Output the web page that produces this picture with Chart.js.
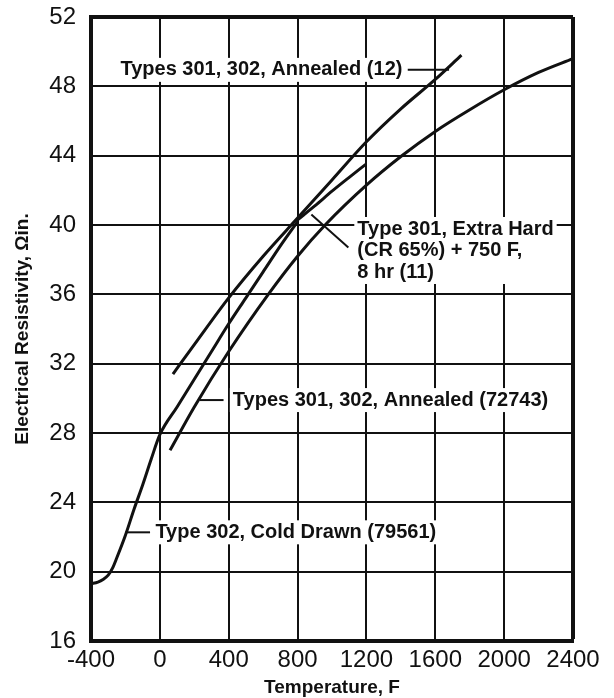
<!DOCTYPE html>
<html>
<head>
<meta charset="utf-8">
<script src="https://cdn.jsdelivr.net/npm/chart.js@4.4.1/dist/chart.umd.min.js"></script>
<style>
  html, body { margin: 0; padding: 0; background: #fff; }
  #wrap { width: 614px; height: 698px; position: relative; }
</style>
</head>
<body>
<div id="wrap"><canvas id="canvas"></canvas></div>
<script>
// axis ticks
const tempTicks = [-400, 0, 400, 800, 1200, 1600, 2000, 2400]
const tempTickLabels = ["-400", "0", "400", "800", "1200", "1600", "2000", "2400"]
const resTicks = [16, 20, 24, 28, 32, 36, 40, 44, 48, 52]
const resTickLabels = ["16", "20", "24", "28", "32", "36", "40", "44", "48", "52"]

// Types 301, 302, Annealed (12)
const annealed12Temp = [76, 200, 400, 600, 800, 1000, 1200, 1400, 1600, 1752]
const annealed12Res = [31.4, 33.1, 35.8, 38.2, 40.4, 42.6, 44.8, 46.7, 48.4, 49.8]

// Types 301, 302, Annealed (72743)
const annealed72743Temp = [59, 200, 400, 630, 800, 960, 1200, 1400, 1600, 1800, 2000, 2200, 2400]
const annealed72743Res = [27.0, 29.5, 32.7, 36.0, 38.2, 40.0, 42.3, 43.95, 45.4, 46.65, 47.8, 48.8, 49.6]

// Type 302, Cold Drawn (79561)
const coldDrawnTemp = [-400, -360, -330, -300, -275, -250, -200, -150, -100, -50, 0, 100, 200, 300, 400, 500, 600, 700, 800]
const coldDrawnRes = [19.3, 19.4, 19.55, 19.8, 20.2, 20.8, 22.1, 23.6, 25.0, 26.5, 27.9, 29.5, 31.1, 32.7, 34.3, 35.8, 37.3, 38.8, 40.2]

// Type 301, Extra Hard (CR 65%) + 750 F, 8 hr (11)
const extraHardTemp = [800, 900, 1000, 1100, 1196]
const extraHardRes = [40.3, 41.1, 41.95, 42.75, 43.5]

const FONT = "'Liberation Sans', Arial, sans-serif"
const INK = "#111"

// turn two arrays into scatter points
const toPoints = (xs, ys) => xs.map((x, i) => ({ x: x, y: ys[i] }))

const curve = (label, xs, ys) => ({
    label: label,
    data: toPoints(xs, ys),
    showLine: true,
    borderColor: INK,
    borderWidth: 3,
    pointRadius: 0,
    cubicInterpolationMode: "monotone",
    fill: false
})

// text labels with their leader lines, placed in data units
const callouts = [
    { lines: ["Types 301, 302, Annealed (12)"], x: -229, y: 48.95, leader: [[1440, 48.95], [1680, 48.95]] },
    { lines: ["Type 301, Extra Hard", "(CR 65%) + 750 F,", "8 hr (11)"], x: 1147, y: 39.77, leader: [[1095, 38.7], [880, 40.6]] },
    { lines: ["Types 301, 302, Annealed (72743)"], x: 424, y: 29.9, leader: [[370, 29.9], [232, 29.9]] },
    { lines: ["Type 302, Cold Drawn (79561)"], x: -26, y: 22.27, leader: [[-57, 22.27], [-200, 22.27]] }
]
const calloutFont = "bold 20px " + FONT
const calloutLineHeight = 21.5

const calloutPlugin = {
    id: "callouts",
    // white boxes behind the text hide the grid, like the printed chart
    beforeDatasetsDraw(chart) {
        const ctx = chart.ctx
        const xs = chart.scales.x
        const ys = chart.scales.y
        ctx.save()
        ctx.font = calloutFont
        ctx.fillStyle = "#fff"
        callouts.forEach(c => {
            const px = xs.getPixelForValue(c.x)
            const py = ys.getPixelForValue(c.y)
            const w = Math.max(...c.lines.map(t => ctx.measureText(t).width))
            const h = (c.lines.length - 1) * calloutLineHeight + 24
            ctx.fillRect(px - 3, py - 12, w + 6, h)
        })
        ctx.restore()
    },
    afterDatasetsDraw(chart) {
        const ctx = chart.ctx
        const xs = chart.scales.x
        const ys = chart.scales.y
        ctx.save()
        ctx.font = calloutFont
        ctx.fillStyle = INK
        ctx.strokeStyle = INK
        ctx.lineWidth = 2
        ctx.textAlign = "left"
        ctx.textBaseline = "middle"
        callouts.forEach(c => {
            const px = xs.getPixelForValue(c.x)
            const py = ys.getPixelForValue(c.y)
            c.lines.forEach((t, i) => ctx.fillText(t, px, py + i * calloutLineHeight))
            ctx.beginPath()
            ctx.moveTo(xs.getPixelForValue(c.leader[0][0]), ys.getPixelForValue(c.leader[0][1]))
            ctx.lineTo(xs.getPixelForValue(c.leader[1][0]), ys.getPixelForValue(c.leader[1][1]))
            ctx.stroke()
        })
        ctx.restore()
    }
}

const target = document.querySelector("#canvas")
const myChart = new Chart(target, {
    type: "scatter",
    data: {
        datasets: [
            curve("Types 301, 302, Annealed (12)", annealed12Temp, annealed12Res),
            curve("Types 301, 302, Annealed (72743)", annealed72743Temp, annealed72743Res),
            curve("Type 302, Cold Drawn (79561)", coldDrawnTemp, coldDrawnRes),
            curve("Type 301, Extra Hard (CR 65%) + 750 F, 8 hr (11)", extraHardTemp, extraHardRes)
        ]
    },
    options: {
        responsive: true,
        maintainAspectRatio: false,
        animation: false,
        layout: { padding: { top: 17, right: 41, bottom: 0, left: 0 } },
        plugins: {
            legend: { display: false },
            tooltip: { enabled: false }
        },
        scales: {
            x: {
                type: "linear",
                min: -400,
                max: 2400,
                afterBuildTicks: s => { s.ticks = tempTicks.map(v => ({ value: v })) },
                afterFit: s => { s.height = 57 },
                ticks: {
                    callback: (v, i) => tempTickLabels[i],
                    font: { family: FONT, size: 24 },
                    color: INK,
                    padding: 5,
                    maxRotation: 0,
                    autoSkip: false
                },
                grid: {
                    color: INK,
                    lineWidth: c => (c.tick && c.tick.value === 2400) ? 4 : 2,
                    drawTicks: false
                },
                border: { color: INK, width: 4 },
                title: {
                    display: true,
                    text: "Temperature, F",
                    color: INK,
                    font: { family: FONT, size: 19, weight: "bold", lineHeight: 1.1 },
                    padding: { top: 0, bottom: 0 }
                }
            },
            y: {
                type: "linear",
                min: 16,
                max: 52,
                afterBuildTicks: s => { s.ticks = resTicks.map(v => ({ value: v })) },
                // fixed width, and no extra room for the top label
                afterFit: s => {
                    s.width = 91
                    s.paddingTop = 0
                    s.paddingBottom = 0
                },
                ticks: {
                    callback: (v, i) => resTickLabels[i],
                    font: { family: FONT, size: 24 },
                    color: INK,
                    padding: 15
                },
                grid: {
                    color: INK,
                    lineWidth: c => (c.tick && c.tick.value === 52) ? 4 : 2,
                    drawTicks: false
                },
                border: { color: INK, width: 4 },
                title: {
                    display: true,
                    text: "Electrical Resistivity, \u03A9in.",
                    color: INK,
                    font: { family: FONT, size: 19, weight: "bold", lineHeight: 1.2 },
                    padding: { top: 11, bottom: 0 }
                }
            }
        }
    },
    plugins: [calloutPlugin]
});
</script>
</body>
</html>
